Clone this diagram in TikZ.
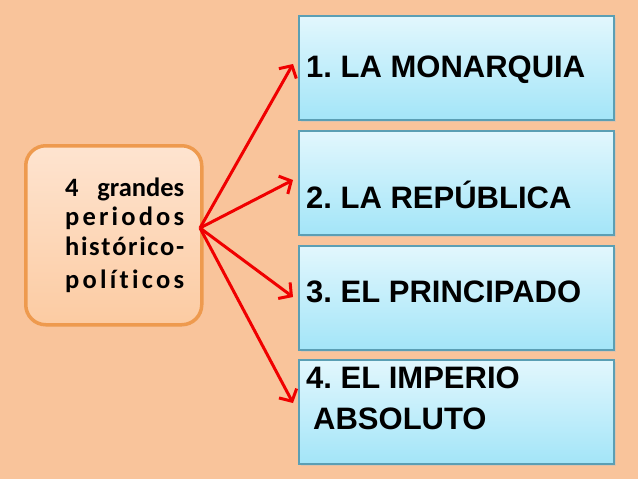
\documentclass[tikz,border=0pt]{standalone}
\usepackage{fontspec}
\usetikzlibrary{arrows.meta}
\newfontfamily\boxfont{Liberation Sans}[BoldFont={* Bold}]
\newfontfamily\leftfont{Carlito}[BoldFont={* Bold}]
\frenchspacing
\definecolor{bgpeach}{HTML}{F9C49B}
\definecolor{boxedge}{HTML}{5B9FB4}
\definecolor{boxtop}{HTML}{E2F7FD}
\definecolor{boxbot}{HTML}{A3E5F8}
\definecolor{ledge}{HTML}{EE9A4E}
\definecolor{ltop}{HTML}{FEE4D0}
\definecolor{lbot}{HTML}{FCCBA2}
\definecolor{arrred}{HTML}{F00000}
\tikzset{
  periodbox/.style={draw=boxedge, line width=2pt, top color=boxtop, bottom color=boxbot,
    minimum width=315pt, minimum height=104pt, anchor=north west, inner sep=0pt},
  periodtext/.style={font=\boxfont\bfseries\fontsize{31}{31}\selectfont\frenchspacing, anchor=base west, inner sep=0pt},
  lefttext/.style={font=\leftfont\bfseries\fontsize{26.5}{26.5}\selectfont, anchor=base west, inner sep=0pt},
  link/.style={draw=arrred, line width=3pt, -{Straight Barb[length=9pt,width=20pt]}},
}
\begin{document}
\begin{tikzpicture}[x=1pt,y=-1pt]
\fill[bgpeach] (0,0) rectangle (638,479);
\useasboundingbox (0,0) rectangle (638,479);
% shadows
\foreach \y in {15,130,245,359}{
  \fill[black!25,opacity=0.45] (300.5,\y+2.5) rectangle (615.5,\y+106.5);
}
\node[periodbox] (box1) at (298,15) {};
\node[periodbox] (box2) at (298,130) {};
\node[periodbox] (box3) at (298,245) {};
\node[periodbox] (box4) at (298,359) {};
\node[periodtext] (t1) at (306,77) {1. LA MONARQUIA};
\node[periodtext] (t2) at (306,208) {2. LA REPÚBLICA};
\node[periodtext] (t3) at (306,302) {3. EL PRINCIPADO};
\node[periodtext] (t4a) at (306,388) {4. EL IMPERIO};
\node[periodtext] (t4b) at (313,429) {ABSOLUTO};
% left box
\fill[black!30,opacity=0.35,rounded corners=20pt] (26,147) rectangle (202,326);
\node[draw=ledge, line width=3.5pt, top color=ltop, bottom color=lbot,
  rounded corners=20pt, minimum width=176pt, minimum height=179pt,
  anchor=north west, inner sep=0pt] (src) at (24,144) {};
\node[lefttext] (l1) at (65,196) {\hbox to 119pt{4\hfill grandes}};
\node[lefttext] (l2) at (65,225) {\hbox to 119pt{p\hfill e\hfill r\hfill i\hfill o\hfill d\hfill o\hfill s}};
\node[lefttext] (l3) at (65,255) {\hbox to 119pt{h\hfill i\hfill s\hfill t\hfill ó\hfill r\hfill i\hfill c\hfill o\hfill -}};
\node[lefttext] (l4) at (65,288) {\hbox to 119pt{p\hfill o\hfill l\hfill í\hfill t\hfill i\hfill c\hfill o\hfill s}};
% arrows
\coordinate (hub) at (200,228);
\coordinate (a1) at (293,64);
\coordinate (a2) at (293,180);
\coordinate (a3) at (293,297);
\coordinate (a4) at (293,403);
\draw[link] (hub) -- (a1);
\draw[link] (hub) -- (a2);
\draw[link] (hub) -- (a3);
\draw[link] (hub) -- (a4);
\end{tikzpicture}
\end{document}
